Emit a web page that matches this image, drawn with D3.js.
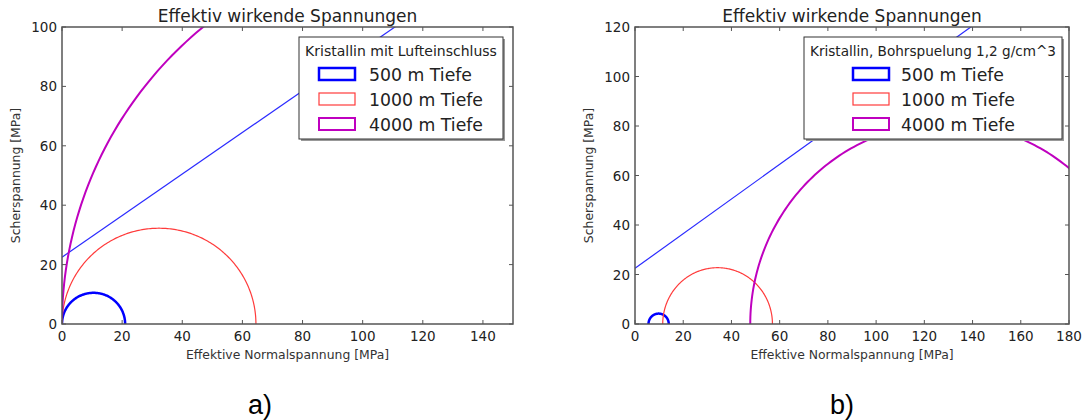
<!DOCTYPE html>
<html>
<head>
<meta charset="utf-8">
<script src="https://cdn.jsdelivr.net/npm/d3@7"></script>
<style>
  body { margin: 0; background: #fff; }
  svg { display: block; }
  text { font-family: "DejaVu Sans", sans-serif; fill: #222; }
</style>
</head>
<body>
<div class="chart"></div>
<script>
// Mohr circles: sigma3 / sigma1 per depth [MPa]
var depths = ["500 m Tiefe", "1000 m Tiefe", "4000 m Tiefe"];
var colors = ["#0000ff", "#ff3b3b", "#bf00bf"];
var widths = [2.5, 1.2, 2];

var sigma3A = [0, 0, 0];
var sigma1A = [21, 64.5, 260];
var sigma3B = [5.6, 11.5, 47.8];
var sigma1B = [14, 57, 210];

// failure line tau = c + mu * sigma
var cohesion = 22.5;
var friction = 0.7;

var xTicksA = [0, 20, 40, 60, 80, 100, 120, 140];
var yTicksA = [0, 20, 40, 60, 80, 100];
var xTicksB = [0, 20, 40, 60, 80, 100, 120, 140, 160, 180];
var yTicksB = [0, 20, 40, 60, 80, 100, 120];

var panels = [
  {left: 62, right: 513, xMax: 150, yMax: 100, xTicks: xTicksA, yTicks: yTicksA,
   s3: sigma3A, s1: sigma1A, legendTitle: "Kristallin mit Lufteinschluss",
   legend: {x: 299, y: 37, w: 204, h: 102, px: 20, tx: 50, fs: 14},
   caption: "a)", capX: 260},
  {left: 635, right: 1069, xMax: 180, yMax: 120, xTicks: xTicksB, yTicks: yTicksB,
   s3: sigma3B, s1: sigma1B, legendTitle: "Kristallin, Bohrspuelung 1,2 g/cm^3",
   legend: {x: 804, y: 37, w: 258, h: 102, px: 49, tx: 48, fs: 13.6},
   caption: "b)", capX: 842}
];

var plotTop = 27, plotBottom = 324;

var svg = d3.select(".chart").append("svg")
    .attr("width", 1083)
    .attr("height", 420);

panels.forEach(function(p, i) {
  var x = d3.scaleLinear().domain([0, p.xMax]).range([p.left, p.right]);
  var y = d3.scaleLinear().domain([0, p.yMax]).range([plotBottom, plotTop]);

  svg.append("clipPath").attr("id", "clip" + i)
    .append("rect")
    .attr("x", p.left).attr("y", plotTop)
    .attr("width", p.right - p.left).attr("height", plotBottom - plotTop);

  var plot = svg.append("g").attr("clip-path", "url(#clip" + i + ")");

  // failure line
  plot.append("line")
    .attr("x1", x(0)).attr("y1", y(cohesion))
    .attr("x2", x(p.xMax)).attr("y2", y(cohesion + friction * p.xMax))
    .attr("stroke", "#2a2aff").attr("stroke-width", 1.2);

  // semicircles
  var angles = d3.range(0, 181, 1);
  var line = d3.line().x(function(d) { return x(d[0]); }).y(function(d) { return y(d[1]); });
  depths.forEach(function(dep, k) {
    var c = (p.s1[k] + p.s3[k]) / 2, r = (p.s1[k] - p.s3[k]) / 2;
    var pts = angles.map(function(a) {
      var t = a * Math.PI / 180;
      return [c + r * Math.cos(t), r * Math.sin(t)];
    });
    plot.append("path")
      .attr("d", line(pts))
      .attr("fill", "none")
      .attr("stroke", colors[k])
      .attr("stroke-width", widths[k]);
  });

  // ticks inside on all four sides
  var tl = 4;
  var g = svg.append("g").attr("stroke", "#555").attr("stroke-width", 1);
  p.xTicks.forEach(function(t) {
    g.append("line").attr("x1", x(t)).attr("x2", x(t)).attr("y1", plotBottom).attr("y2", plotBottom - tl);
    g.append("line").attr("x1", x(t)).attr("x2", x(t)).attr("y1", plotTop).attr("y2", plotTop + tl);
  });
  p.yTicks.forEach(function(t) {
    g.append("line").attr("y1", y(t)).attr("y2", y(t)).attr("x1", p.left).attr("x2", p.left + tl);
    g.append("line").attr("y1", y(t)).attr("y2", y(t)).attr("x1", p.right).attr("x2", p.right - tl);
  });

  svg.append("rect")
    .attr("x", p.left).attr("y", plotTop)
    .attr("width", p.right - p.left).attr("height", plotBottom - plotTop)
    .attr("fill", "none").attr("stroke", "#555").attr("stroke-width", 1.5);

  // tick labels
  svg.append("g").selectAll("text").data(p.xTicks).enter().append("text")
    .attr("x", function(d) { return x(d); })
    .attr("y", plotBottom + 17)
    .attr("text-anchor", "middle")
    .style("font-size", "13.5px")
    .text(function(d) { return d; });
  svg.append("g").selectAll("text").data(p.yTicks).enter().append("text")
    .attr("x", p.left - 5)
    .attr("y", function(d) { return y(d) + 5; })
    .attr("text-anchor", "end")
    .style("font-size", "13.5px")
    .text(function(d) { return d; });

  var mid = (p.left + p.right) / 2;
  svg.append("text")
    .attr("x", mid).attr("y", 22)
    .attr("text-anchor", "middle")
    .style("font-size", "17px")
    .text("Effektiv wirkende Spannungen");
  svg.append("text")
    .attr("x", mid).attr("y", 359)
    .attr("text-anchor", "middle")
    .style("font-size", "12.4px")
    .style("fill", "#333")
    .text("Effektive Normalspannung [MPa]");
  svg.append("text")
    .attr("transform", "translate(" + (p.left - 42) + "," + ((plotTop + plotBottom) / 2) + ") rotate(-90)")
    .attr("text-anchor", "middle")
    .style("font-size", "12.4px")
    .style("fill", "#333")
    .text("Scherspannung [MPa]");

  // legend
  var L = p.legend;
  svg.append("rect")
    .attr("x", L.x + 2).attr("y", L.y + 2).attr("width", L.w).attr("height", L.h)
    .attr("fill", "#999");
  svg.append("rect")
    .attr("x", L.x).attr("y", L.y).attr("width", L.w).attr("height", L.h)
    .attr("fill", "#fff").attr("stroke", "#333").attr("stroke-width", 1);
  svg.append("text")
    .attr("x", L.x + L.w / 2).attr("y", L.y + 19)
    .attr("text-anchor", "middle")
    .style("font-size", L.fs + "px")
    .text(p.legendTitle);
  var entries = svg.append("g").selectAll("g").data(depths).enter().append("g")
    .attr("transform", function(d, k) { return "translate(0," + (L.y + 37 + k * 25) + ")"; });
  var px = L.x + L.px;
  entries.append("rect")
    .attr("x", px).attr("y", -6).attr("width", 36).attr("height", 12)
    .attr("fill", "none")
    .attr("stroke", function(d, k) { return colors[k]; })
    .attr("stroke-width", function(d, k) { return widths[k]; });
  entries.append("text")
    .attr("x", px + L.tx).attr("y", 6.5)
    .style("font-size", "17.3px")
    .text(function(d) { return d; });

  svg.append("text")
    .attr("x", p.capX).attr("y", 414)
    .attr("text-anchor", "middle")
    .style("font-family", "'Liberation Sans', Arial, sans-serif")
    .style("font-size", "27px")
    .style("fill", "#000")
    .text(p.caption);
});
</script>
</body>
</html>
